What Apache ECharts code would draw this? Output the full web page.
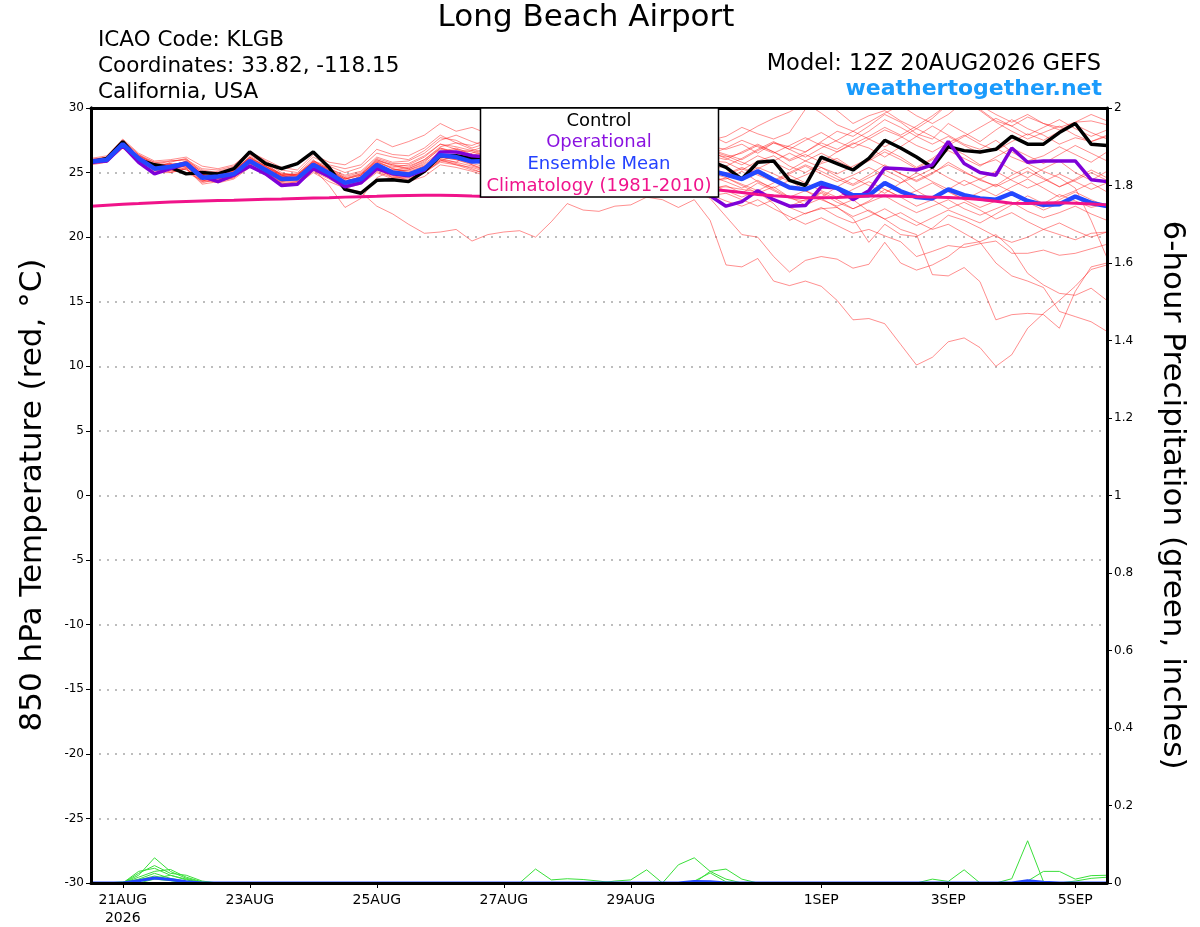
<!DOCTYPE html>
<html><head><meta charset="utf-8">
<script src="https://cdn.jsdelivr.net/npm/echarts@6/dist/echarts.min.js"></script>
<style>html,body{margin:0;padding:0;background:#fff}#c{width:1200px;height:927px}</style>
</head><body><div id="c"></div>
<script>
// ---------- axis ticks / labels ----------
const xTickIndex = [2, 10, 18, 26, 34, 46, 54, 62]; // 6-hourly steps from 20AUG2026 12Z
const xTickText = ['21AUG\n2026', '23AUG', '25AUG', '27AUG', '29AUG', '1SEP', '3SEP', '5SEP'];

// ---------- 850 hPa temperature (degC), 65 six-hourly steps ----------
const control = [25.8,26.1,27.4,26.0,25.6,25.4,24.9,25.0,24.9,25.3, 26.6,25.7,25.3,25.7,26.6,25.4,23.7,23.4,24.4,24.45,
  24.3,25.1,26.3,26.3,26.1,26.0,25.8,26.2,26.5,26.1, 25.7,26.0,26.4,26.2,25.8,26.1,26.5,26.3,26.0,25.9,
  25.4,24.5,25.8,25.9,24.4,24.0,26.2,25.7,25.2,26.1, 27.5,26.9,26.2,25.4,27.0,26.7,26.6,26.8,27.8,27.2, 27.2,28.1,28.8,27.2,27.1];
const operational = [25.8,25.9,27.1,25.8,24.9,25.3,25.7,24.7,24.3,24.8, 25.5,24.9,24.0,24.1,25.3,24.7,23.9,24.2,25.3,24.9,
  24.75,25.2,26.6,26.6,26.3,26.2,26.5,26.0,25.7,26.1, 26.4,25.9,25.6,26.0,25.7,25.4,25.0,24.5,24.0,23.2,
  22.4,22.75,23.6,22.9,22.4,22.45,23.9,23.8,22.9,23.6, 25.35,25.3,25.2,25.6,27.4,25.7,25.0,24.8,26.9,25.8, 25.9,25.9,25.9,24.45,24.3];
const ensMean = [25.85,26.0,27.2,26.1,25.3,25.45,25.7,24.6,24.7,24.9, 25.9,25.2,24.5,24.55,25.6,24.95,24.2,24.5,25.6,25.0,
  24.85,25.3,26.35,26.2,25.85,25.9,26.0,26.1,25.9,25.8, 26.0,25.9,25.7,25.8,25.7,25.6,25.5,25.4,25.3,25.15,
  24.85,24.5,25.1,24.45,23.85,23.7,24.2,23.8,23.25,23.25, 24.2,23.55,23.1,23.0,23.7,23.25,23.0,22.9,23.4,22.8, 22.5,22.55,23.15,22.65,22.4];
const climatology = [22.4,22.48,22.55,22.6,22.66,22.72,22.76,22.8,22.83,22.86, 22.9,22.93,22.96,23.0,23.03,23.06,23.1,23.13,23.16,23.2,
  23.22,23.24,23.25,23.22,23.18,23.15,23.18,23.22,23.28,23.34, 23.4,23.46,23.52,23.56,23.6,23.63,23.66,23.68,23.7,23.7,
  23.6,23.45,23.3,23.2,23.12,23.06,23.05,23.08,23.12,23.18, 23.2,23.17,23.12,23.1,23.07,23.02,22.92,22.78,22.62,22.6, 22.64,22.66,22.62,22.56,22.5];

// ensemble members (red)
const mem01 = [25.9,26.1,27.3,26.0,25.5,25.2,25.0,24.4,24.3,24.6, 25.6,24.8,24.0,24.1,25.0,24.3,23.8,23.5,22.4,21.8,
  21.0,20.3,20.4,20.6,19.7,20.2,20.4,20.5,20.0,21.2, 22.6,22.1,22.0,22.4,22.5,23.1,22.9,22.3,22.9,21.3,
  17.85,17.7,18.35,16.6,16.25,16.6,16.2,15.1,13.6,13.7, 13.3,11.7,10.1,10.7,11.9,12.2,11.45,10.0,10.9,12.95, 14.1,15.1,16.2,17.5,17.85];
const mem02 = [25.7,25.9,27.0,26.3,25.8,25.9,26.0,24.9,25.0,25.2, 26.2,25.5,24.8,24.4,25.3,24.0,22.3,23.0,24.6,25.2,
  25.4,26.0,27.0,27.3,26.8,26.5,26.0,25.6,25.9,26.4, 25.8,25.2,24.9,25.5,25.0,24.6,24.2,23.9,23.6,23.0,
  21.6,20.2,20.0,18.5,17.3,18.2,18.5,18.3,17.6,17.9, 19.6,18.0,17.45,17.85,18.5,19.45,19.65,20.2,19.1,17.2, 16.3,15.65,15.5,16.05,15.1];
const mem03 = [26.0,26.2,27.5,26.4,25.6,25.0,25.3,24.2,24.5,24.7, 25.5,25.0,24.2,24.0,25.2,24.6,24.0,24.8,26.0,25.6,
  25.3,25.8,26.9,26.5,26.2,25.9,26.3,26.8,26.2,25.7, 26.1,25.5,25.0,24.7,25.3,24.8,24.4,24.6,24.1,23.8,
  23.9,23.7,23.5,22.6,21.3,21.85,22.2,22.3,21.45,19.6, 21.0,20.2,20.05,20.7,21.7,21.3,20.7,20.05,19.6,20.0, 20.6,20.2,19.8,20.3,20.4];
const mem04 = [25.8,26.0,27.1,25.9,25.0,25.3,25.9,24.8,24.5,25.0, 26.3,25.6,24.9,24.8,25.9,25.3,24.6,24.2,25.3,24.8,
  24.4,25.0,25.9,26.4,25.6,25.2,25.8,26.3,25.7,25.1, 24.6,25.2,25.6,24.9,24.3,24.7,24.1,23.6,23.9,23.3,
  22.8,22.4,22.9,22.2,21.6,21.0,21.5,20.9,20.3,20.6, 20.1,19.65,18.5,18.9,19.35,19.2,19.5,19.7,18.75,18.75, 19.0,18.6,18.75,19.1,19.45];
const mem05 = [25.95,26.1,27.4,26.2,25.2,25.6,25.5,24.3,24.9,25.1, 25.7,25.1,24.6,24.9,25.8,25.2,24.5,24.9,25.9,25.3,
  25.1,25.5,26.1,25.8,26.5,26.9,27.3,26.8,26.2,26.6, 27.1,26.5,25.9,25.4,25.8,25.2,24.8,25.3,24.6,24.2,
  24.6,24.0,23.4,23.9,23.1,22.5,23.0,22.3,21.6,22.1, 21.4,20.6,20.2,17.1,17.0,17.65,16.55,13.6,14.0,14.1, 14.0,12.95,15.8,17.7,18.0];
const mem06 = [25.6,25.8,26.9,25.8,25.4,25.7,25.2,24.6,24.2,24.5, 25.4,24.9,24.3,24.6,25.5,24.7,24.2,24.6,25.4,24.6,
  24.7,25.1,26.0,25.6,25.4,25.0,25.5,25.1,24.6,25.2, 25.8,26.3,25.7,25.1,24.5,24.9,25.4,24.8,24.3,24.7,
  24.3,23.8,24.4,23.7,23.1,23.6,22.9,22.4,22.9,22.0, 21.4,21.9,21.2,20.6,21.0,20.3,19.6,18.0,17.0,16.6, 16.1,14.25,13.85,13.45,12.7];
const mem07 = [26.1,26.3,27.6,26.5,25.9,26.0,26.2,25.5,25.3,25.6, 26.6,26.0,25.4,25.2,26.4,25.8,25.6,26.3,27.6,27.0,
  27.4,27.9,28.8,28.2,28.5,28.0,28.6,29.2,28.5,27.9, 28.4,27.8,28.3,28.9,28.2,27.6,28.1,28.7,28.0,27.5,
  27.8,28.5,28.0,27.6,28.1,29.9,30.6,29.8,28.8,29.4, 29.8,29.0,28.4,29.2,30.3,30.8,29.9,29.0,28.6,29.3, 28.8,28.5,28.9,29.0,28.7];
const mem08 = [25.9,26.0,27.3,26.3,25.7,25.5,25.9,25.2,25.0,25.3, 26.5,25.8,25.0,24.7,25.9,25.5,25.0,25.4,26.5,26.2,
  26.0,26.7,27.7,27.5,26.9,27.3,27.8,27.2,26.8,27.3, 27.9,27.4,26.9,27.5,28.0,27.3,26.8,27.2,26.7,27.0,
  26.8,27.2,26.5,27.3,27.0,26.6,27.4,28.2,27.8,28.6, 29.5,28.9,28.0,27.6,28.8,28.1,27.4,28.3,29.1,28.4, 27.9,27.2,27.7,27.4,27.9];
const mem09 = [25.7,25.9,27.0,25.8,25.1,25.2,25.6,24.5,24.6,24.8, 25.8,25.3,24.7,24.5,25.4,24.8,24.3,24.7,25.8,25.4,
  25.6,26.2,27.2,26.8,26.3,26.7,26.2,25.8,26.3,26.9, 26.4,25.9,26.5,27.0,26.4,25.8,26.2,26.7,26.1,26.5,
  26.2,26.5,27.1,26.6,25.9,26.4,25.8,26.6,27.3,26.9, 26.2,27.0,27.8,28.6,27.9,27.2,26.8,27.5,26.6,25.9, 26.3,27.0,26.4,25.8,26.6];
const mem10 = [26.0,26.1,27.1,26.0,25.3,25.8,26.1,25.0,24.8,25.0, 26.0,25.4,24.6,24.7,25.7,25.1,24.4,24.6,25.7,25.0,
  24.8,25.4,26.4,26.3,26.0,25.6,26.0,26.5,26.0,25.4, 25.9,26.4,25.8,25.3,25.7,26.2,25.6,25.1,25.5,25.9,
  25.8,25.2,25.9,26.3,25.5,25.0,25.7,26.1,25.3,26.0, 26.8,26.2,25.4,26.1,27.0,26.4,25.6,26.0,25.2,24.6, 25.3,25.9,25.0,24.4,25.1];
const mem11 = [25.8,25.9,27.0,26.2,25.5,25.4,25.6,24.7,24.9,25.2, 26.1,25.5,24.9,24.9,26.0,25.0,24.1,24.3,25.5,25.1,
  25.2,25.7,26.6,26.9,26.4,26.1,25.6,25.2,25.7,26.2, 25.6,25.0,25.4,25.9,25.3,24.8,25.2,25.6,25.0,24.6,
  25.0,24.6,25.4,24.9,24.3,24.8,25.4,24.7,24.1,24.8, 25.6,24.9,24.3,24.9,25.8,25.1,24.4,24.0,24.8,25.4, 24.6,23.9,24.5,25.2,24.6];
const mem12 = [25.75,26.0,27.2,26.0,25.2,25.1,25.3,24.3,24.4,24.7, 25.6,24.9,24.1,24.3,25.2,24.6,23.9,24.2,25.2,24.7,
  24.6,25.0,25.9,25.7,25.3,24.8,25.2,24.7,24.3,24.8, 25.3,24.9,24.4,24.8,25.2,24.7,24.3,24.6,24.2,24.5,
  24.5,25.1,24.3,23.8,24.4,23.6,23.1,23.9,24.6,24.0, 23.4,24.2,25.0,24.3,23.7,24.4,23.8,23.2,23.9,24.5, 23.8,23.1,23.6,24.2,23.5];
const mem13 = [25.9,26.0,27.3,26.1,25.4,25.6,25.8,24.9,24.6,24.8, 25.8,25.2,24.5,24.5,25.5,24.9,24.2,24.4,25.4,24.9,
  24.9,25.4,26.2,26.0,25.6,25.1,24.6,24.2,24.7,25.1, 24.5,24.0,24.4,24.9,24.3,23.8,24.2,24.7,24.1,23.7,
  24.0,23.4,24.2,23.6,23.0,22.8,23.5,22.9,22.2,22.8, 23.7,23.1,22.4,22.9,23.6,22.9,22.3,22.8,23.4,22.7, 22.1,22.6,23.2,22.6,22.3];
const mem14 = [26.0,26.2,27.5,26.4,25.8,25.7,25.4,24.8,25.1,25.4, 26.4,25.7,24.8,24.6,25.7,25.3,24.8,25.1,26.2,25.8,
  25.9,26.5,27.5,27.9,27.4,27.0,27.5,28.1,27.6,27.1, 27.6,28.2,27.7,27.2,27.8,28.3,27.6,27.0,27.4,27.9,
  27.3,27.9,28.6,29.2,29.7,30.4,29.6,28.7,28.2,28.9, 29.6,30.2,29.4,28.8,29.5,30.5,29.8,28.9,28.2,27.6, 28.1,28.6,27.9,27.4,27.8];
const mem15 = [25.8,26.0,27.1,26.2,25.6,25.6,25.8,25.1,24.7,25.0, 26.2,25.5,24.7,24.5,25.6,25.0,24.5,24.8,25.9,25.6,
  25.5,26.0,26.9,26.6,26.7,26.3,26.9,27.4,26.8,26.2, 26.7,27.2,26.6,26.1,26.5,27.0,26.4,25.9,26.3,26.8,
  26.4,26.0,26.7,27.3,26.8,27.5,28.1,27.4,26.9,27.6, 28.3,27.8,27.1,26.6,27.3,27.9,27.2,26.7,27.4,28.0, 27.5,28.2,28.7,28.1,27.6];
const mem16 = [25.85,26.1,27.3,26.1,25.3,25.5,25.7,24.6,24.7,24.9, 25.9,25.3,24.6,24.6,25.6,25.0,24.3,24.5,25.6,25.1,
  25.0,25.3,26.2,26.1,25.9,25.5,25.0,25.5,26.0,25.4, 24.9,25.3,25.8,25.2,24.7,25.1,25.6,25.0,24.6,25.0,
  24.8,25.3,24.8,24.3,24.9,25.5,24.9,24.3,24.8,25.4, 24.8,24.2,24.7,25.3,24.6,24.0,24.5,25.1,24.4,23.8, 24.3,24.9,24.3,23.7,24.2];
const mem17 = [25.7,25.8,26.9,25.9,25.0,25.0,25.3,24.1,24.3,24.6, 25.5,24.8,24.2,24.2,25.1,24.5,23.8,24.1,25.0,24.5,
  24.3,24.7,25.6,25.4,25.1,24.7,24.3,24.7,25.1,24.6, 24.2,24.6,25.0,24.4,24.0,24.4,24.8,24.2,23.8,24.1,
  23.6,23.1,23.6,22.9,22.4,22.9,23.4,22.7,22.2,22.7, 23.2,22.5,21.9,22.4,22.9,22.2,21.7,22.2,22.7,22.0, 21.5,21.9,22.4,21.8,21.3];
const mem18 = [26.0,26.1,27.4,26.3,25.6,25.9,26.0,25.3,25.2,25.5, 26.6,25.9,25.2,25.0,26.2,25.6,25.3,25.6,26.8,26.4,
  26.3,26.9,27.9,27.3,27.1,27.6,27.1,26.6,27.2,27.7, 27.1,26.6,27.0,27.6,27.1,26.6,27.0,27.5,26.9,26.4,
  26.9,27.5,27.0,26.5,27.1,27.7,27.1,26.6,27.2,27.8, 28.5,27.9,28.6,29.4,30.3,30.9,30.2,29.5,28.9,29.5, 28.8,28.3,28.9,29.5,29.0];
const mem19 = [25.8,26.0,27.1,26.0,25.2,25.3,25.5,24.5,24.6,24.8, 25.7,25.0,24.4,24.4,25.4,24.7,24.0,24.3,25.3,24.8,
  24.7,25.1,26.0,25.8,25.5,25.1,24.7,24.3,24.8,25.2, 24.7,24.2,24.6,25.0,24.5,24.1,24.5,24.0,23.6,23.2,
  23.4,22.9,22.4,22.9,22.3,21.8,22.3,21.6,21.1,21.6, 22.2,21.5,20.9,21.5,22.1,21.6,21.1,21.8,22.5,23.2, 22.6,23.3,22.8,22.3,22.6];
const mem20 = [25.9,26.0,27.2,26.2,25.4,25.4,25.6,24.7,24.8,25.1, 26.1,25.4,24.8,24.8,25.8,25.2,24.6,24.9,26.0,25.5,
  25.3,25.9,26.8,26.6,26.1,26.6,27.1,26.5,26.0,26.6, 27.1,26.6,26.0,26.5,27.0,26.5,26.0,26.4,26.9,26.3,
  26.0,26.6,27.2,26.6,26.0,26.6,27.3,26.8,27.5,28.2, 29.1,28.5,27.8,27.2,27.8,27.1,26.5,26.9,26.2,25.7, 25.1,24.6,23.8,21.3,18.4];
const mem21 = [25.75,25.9,27.0,25.9,25.2,25.2,25.4,24.4,24.5,24.7, 25.6,25.0,24.3,24.3,25.3,24.6,23.9,24.2,25.1,24.6,
  24.5,25.0,25.8,25.6,25.2,24.9,25.3,25.8,25.2,24.8, 25.3,25.7,25.2,24.7,25.1,25.5,24.9,24.5,24.8,25.2,
  24.9,25.4,24.9,24.4,25.0,25.6,25.1,24.5,24.0,24.6, 25.2,24.6,23.6,22.9,22.2,22.7,22.1,21.4,21.9,21.2, 20.6,21.1,20.5,20.0,20.4];
const mem22 = [25.85,26.05,27.25,26.15,25.45,25.35,25.55,24.75,24.55,24.85, 25.75,25.15,24.45,24.65,25.55,24.85,24.1,24.4,25.45,25.2,
  25.2,25.6,26.5,26.8,26.6,26.2,26.7,27.1,26.6,26.1, 26.5,27.0,26.5,26.0,26.4,26.9,26.3,25.8,26.2,26.6,
  26.1,25.6,26.3,25.8,25.2,25.9,26.5,25.9,25.3,25.9, 26.6,26.0,25.3,26.0,26.7,26.1,25.5,26.2,26.9,26.3, 25.7,26.4,27.1,26.5,25.9];
const mem23 = [25.95,26.15,27.35,26.0,25.35,25.55,25.85,24.85,24.75,24.95, 25.95,25.35,24.75,24.75,25.75,25.15,24.5,24.8,25.8,25.3,
  25.0,25.5,26.4,26.2,26.0,25.7,26.1,25.6,25.2,25.6, 26.0,25.5,25.1,25.5,25.9,25.4,25.0,25.3,25.7,25.3,
  25.5,26.1,26.8,27.4,26.8,26.2,26.9,27.5,28.2,27.6, 27.0,27.7,28.4,27.8,27.1,27.8,28.5,29.2,28.6,27.9, 28.5,29.1,28.4,27.8,28.3];
const mem24 = [25.8,25.95,27.15,26.05,25.25,25.4,25.65,24.55,24.65,24.85, 25.85,25.1,24.4,24.5,25.5,24.9,24.15,24.45,25.5,24.95,
  24.8,25.2,26.2,26.0,25.7,25.4,25.8,26.3,25.8,25.3, 25.7,26.2,25.7,25.2,25.6,26.1,25.5,25.0,25.4,25.0,
  24.6,24.1,23.6,24.2,24.8,24.2,23.6,23.1,23.7,24.3, 23.7,23.1,23.6,24.2,23.5,22.9,23.5,24.1,23.5,22.8, 22.3,22.9,23.5,22.9,22.4];
const mem25 = [25.9,26.05,27.3,26.25,25.5,25.65,25.75,24.95,24.9,25.15, 26.15,25.45,24.85,24.85,25.85,25.35,24.7,25.0,26.1,25.7,
  25.7,26.3,27.2,27.0,26.7,27.1,27.6,27.0,26.5,27.0, 27.5,26.9,26.4,26.9,27.4,26.8,26.3,26.8,27.3,26.7,
  26.3,25.8,25.3,25.9,26.5,25.9,25.4,24.9,25.5,26.1, 25.5,24.9,24.4,25.0,25.6,25.0,24.5,23.9,24.5,25.1, 24.5,23.9,24.4,25.0,24.4];

// ---------- 6-hour precipitation (inches) ----------
const pcp01 = [0,0,0,0.02,0.065,0.03,0.012,0.002,0,0, 0,0,0,0,0,0,0,0,0,0, 0,0,0,0,0,0,0,0,0.036,0.008,
  0.011,0.009,0.005,0,0,0,0,0,0,0, 0,0,0,0,0,0,0,0,0,0, 0,0,0,0,0,0,0,0,0,0, 0,0,0,0,0];
const pcp02 = [0,0,0,0.025,0.045,0.025,0.02,0.005,0,0, 0,0,0,0,0,0,0,0,0,0, 0,0,0,0,0,0,0,0,0,0,
  0,0,0,0.005,0.008,0.034,0,0.047,0.065,0.03, 0.01,0,0,0,0,0,0,0,0,0, 0,0,0,0,0,0,0,0,0,0, 0,0,0,0,0];
const pcp03 = [0,0,0,0.03,0.038,0.02,0.008,0,0,0, 0,0,0,0,0,0,0,0,0,0, 0,0,0,0,0,0,0,0,0,0,
  0,0,0,0,0,0,0,0,0.005,0.026, 0.003,0,0,0,0,0,0,0,0,0, 0,0,0,0,0,0,0,0,0,0, 0,0,0,0,0];
const pcp04 = [0,0,0,0.015,0.03,0.035,0.015,0.003,0,0, 0,0,0,0,0,0,0,0,0,0, 0,0,0,0,0,0,0,0,0,0,
  0,0,0,0,0,0,0,0,0,0.03, 0.036,0.01,0,0,0,0,0,0,0,0, 0,0,0,0,0,0,0,0,0,0, 0,0,0,0,0];
const pcp05 = [0,0,0,0.01,0.025,0.012,0.004,0,0,0, 0,0,0,0,0,0,0,0,0,0, 0,0,0,0,0,0,0,0,0,0,
  0,0,0,0,0,0,0,0,0,0, 0,0,0,0,0,0,0,0,0,0, 0,0,0,0.01,0.004,0.034,0,0,0,0, 0,0,0,0,0];
const pcp06 = [0,0,0.003,0.008,0.018,0.01,0.002,0,0,0, 0,0,0,0,0,0,0,0,0,0, 0,0,0,0,0,0,0,0,0,0,
  0,0,0,0,0,0,0,0,0,0, 0,0,0,0,0,0,0,0,0,0, 0,0,0,0,0,0,0,0,0.011,0.109, 0.003,0,0,0,0];
const pcp07 = [0,0,0,0,0.01,0.006,0,0,0,0, 0,0,0,0,0,0,0,0,0,0, 0,0,0,0,0,0,0,0,0,0,
  0,0,0,0,0,0,0,0,0,0, 0,0,0,0,0,0,0,0,0,0, 0,0,0,0,0,0,0,0,0,0.005, 0.03,0.03,0.01,0.019,0.02];
const pcp08 = [0,0,0,0.006,0.012,0.02,0.01,0,0,0, 0,0,0,0,0,0,0,0,0,0, 0,0,0,0,0,0,0,0,0,0,
  0,0,0,0,0,0,0,0,0,0, 0,0,0,0,0,0,0,0,0,0, 0,0,0,0,0,0,0,0,0,0, 0,0,0.005,0.012,0.015];
const pcpMean = [0,0,0,0.006,0.013,0.009,0.003,0,0,0, 0,0,0,0,0,0,0,0,0,0, 0,0,0,0,0,0,0,0,0,0,
  0,0,0,0,0,0,0,0,0.004,0.003, 0,0,0,0,0,0,0,0,0,0, 0,0,0,0,0,0,0,0,0,0.006, 0.002,0,0,0,0];

const members = [mem01,mem02,mem03,mem04,mem05,mem06,mem07,mem08,mem09,mem10,mem11,mem12,mem13,
  mem14,mem15,mem16,mem17,mem18,mem19,mem20,mem21,mem22,mem23,mem24,mem25];
const pcpMembers = [pcp01,pcp02,pcp03,pcp04,pcp05,pcp06,pcp07,pcp08];

// ---------- build chart ----------
const FONT = '"DejaVu Sans", "Liberation Sans", sans-serif';
const pairs = a => a.map((v, i) => [i, v]);
const series = [];
members.forEach(m => series.push({type:'line', data:pairs(m), xAxisIndex:0, yAxisIndex:0, symbol:'none', silent:true, z:2,
  lineStyle:{color:'rgba(255,20,20,0.48)', width:1}}));
pcpMembers.forEach(p => series.push({type:'line', data:pairs(p), xAxisIndex:0, yAxisIndex:1, symbol:'none', silent:true, z:2,
  lineStyle:{color:'#3ADF3A', width:1}}));
series.push({type:'line', data:pairs(pcpMean), xAxisIndex:0, yAxisIndex:1, symbol:'none', silent:true, z:3, lineStyle:{color:'#2347FF', width:3}});
series.push({type:'line', data:pairs(control), xAxisIndex:0, yAxisIndex:0, symbol:'none', silent:true, z:4, lineStyle:{color:'#000000', width:3.5}});
series.push({type:'line', data:pairs(operational), xAxisIndex:0, yAxisIndex:0, symbol:'none', silent:true, z:5, lineStyle:{color:'#7E00D8', width:3.5}});
series.push({type:'line', data:pairs(ensMean), xAxisIndex:0, yAxisIndex:0, symbol:'none', silent:true, z:6, lineStyle:{color:'#2347FF', width:4.5}});
series.push({type:'line', data:pairs(climatology), xAxisIndex:0, yAxisIndex:0, symbol:'none', silent:true, z:7, lineStyle:{color:'#F0138A', width:3}});

function txt(x, y, text, size, color, align, weight) {
  return {type:'text', x:x, y:y, z:200, silent:true,
    style:{text:text, fill:color, font:(weight ? weight + ' ' : '') + size + 'px ' + FONT, align:align, verticalAlign:'middle',
      textAlign:align, textVerticalAlign:'middle'}};
}

const option = {
  animation: false,
  backgroundColor: '#ffffff',
  grid: {left: 91, right: 93, top: 108, bottom: 44, containLabel: false},
  xAxis: [
    {type:'value', min:0, max:64, position:'bottom', z:10,
     axisLine:{show:true, onZero:false, lineStyle:{color:'#000', width:3}},
     axisTick:{show:true, customValues:xTickIndex, length:5, inside:false, lineStyle:{color:'#000', width:1}},
     axisLabel:{show:true, customValues:xTickIndex, formatter: v => xTickText[xTickIndex.indexOf(v)] || '',
       fontSize:14, fontFamily:FONT, color:'#000', margin:8, lineHeight:18},
     splitLine:{show:false}},
    {type:'value', min:0, max:64, position:'top', z:10,
     axisLine:{show:true, onZero:false, lineStyle:{color:'#000', width:3}},
     axisTick:{show:false}, axisLabel:{show:false}, splitLine:{show:false}}
  ],
  yAxis: [
    {type:'value', min:-30, max:30, interval:5, position:'left',
     axisLine:{show:true, onZero:false, lineStyle:{color:'#000', width:3}},
     axisTick:{show:true, length:5, inside:false, lineStyle:{color:'#000', width:1}},
     axisLabel:{fontSize:12, fontFamily:FONT, color:'#000', margin:7},
     splitLine:{show:true, lineStyle:{color:'#a8a8a8', width:1.5, type:[2,6]}}},
    {type:'value', min:0, max:2, interval:0.2, position:'right', z:10,
     axisLine:{show:true, onZero:false, lineStyle:{color:'#000', width:3}},
     axisTick:{show:true, length:5, inside:false, lineStyle:{color:'#000', width:1}},
     axisLabel:{fontSize:12, fontFamily:FONT, color:'#000', margin:7, formatter: v => String(parseFloat(Number(v).toFixed(1)))},
     splitLine:{show:false}},
    {type:'value', min:-30, max:30, position:'left', z:10,
     axisLine:{show:true, onZero:false, lineStyle:{color:'#000', width:3}},
     axisTick:{show:false}, axisLabel:{show:false}, splitLine:{show:false}}
  ],
  series: series,
  graphic: {elements: [
    txt(586, 18, 'Long Beach Airport', 31, '#000', 'center'),
    txt(98, 40, 'ICAO Code: KLGB', 21.5, '#000', 'left'),
    txt(98, 66, 'Coordinates: 33.82, -118.15', 21.5, '#000', 'left'),
    txt(98, 92, 'California, USA', 21.5, '#000', 'left'),
    txt(1101, 64, 'Model: 12Z 20AUG2026 GEFS', 22.5, '#000', 'right'),
    txt(1102, 89, 'weathertogether.net', 22, '#1A9BFC', 'right', 'bold'),
    {type:'text', x:33, y:495, rotation:Math.PI/2, z:200, silent:true, style:{text:'850 hPa Temperature (red, \u00B0C)', fill:'#000',
      font:'31px ' + FONT, align:'center', verticalAlign:'middle', textAlign:'center', textVerticalAlign:'middle'}},
    {type:'text', x:1172, y:495, rotation:-Math.PI/2, z:200, silent:true, style:{text:'6-hour Precipitation (green, inches)', fill:'#000',
      font:'31px ' + FONT, align:'center', verticalAlign:'middle', textAlign:'center', textVerticalAlign:'middle'}},
    {type:'rect', z:100, silent:true, shape:{x:480.5, y:108, width:238, height:89},
      style:{fill:'#ffffff', stroke:'#000000', lineWidth:1.5}},
    txt(599, 121, 'Control', 18, '#000000', 'center'),
    txt(599, 142, 'Operational', 18, '#8A12E0', 'center'),
    txt(599, 164, 'Ensemble Mean', 18, '#2442FF', 'center'),
    txt(599, 186, 'Climatology (1981-2010)', 18, '#F0148C', 'center')
  ]}
};

const chart = echarts.init(document.getElementById('c'), null, {renderer:'canvas'});
chart.setOption(option);
</script>
</body></html>
